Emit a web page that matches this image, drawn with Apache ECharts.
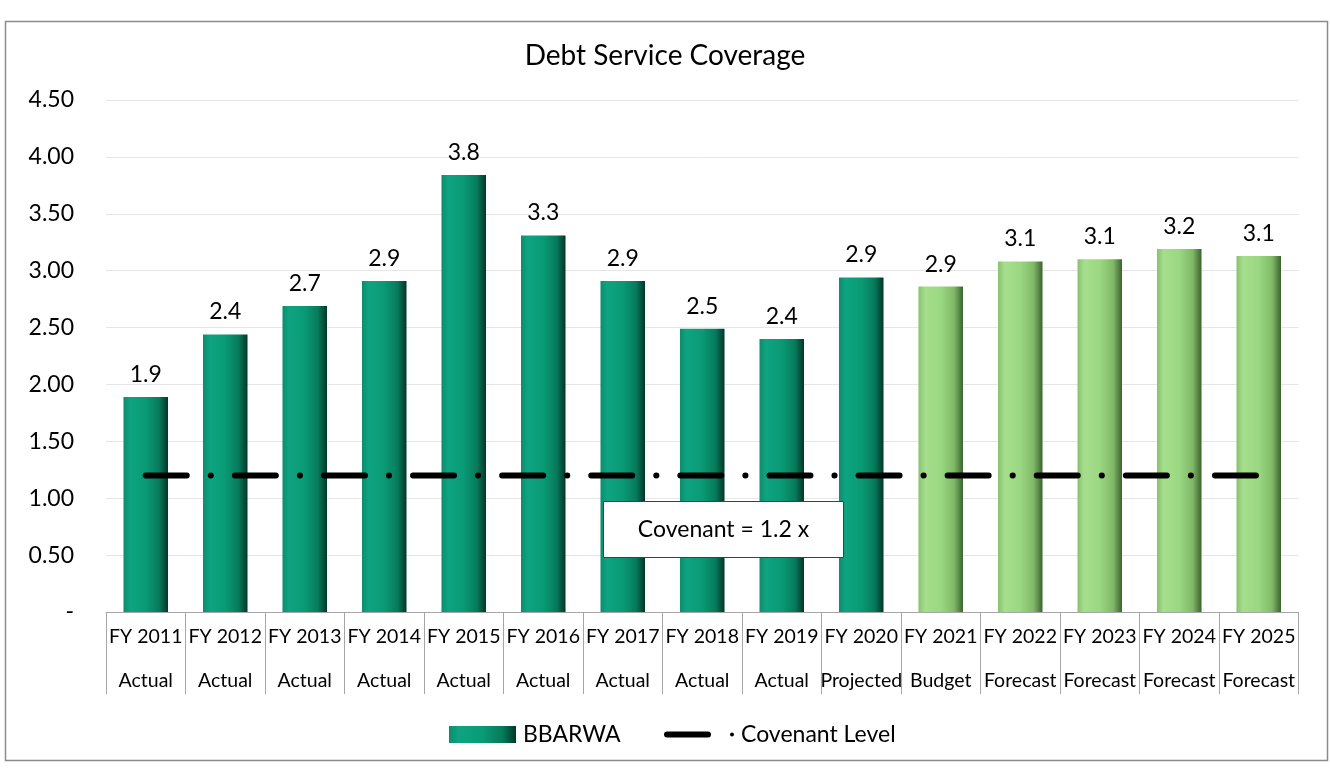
<!DOCTYPE html>
<html>
<head>
<meta charset="utf-8">
<script src="https://cdn.jsdelivr.net/npm/echarts@6/dist/echarts.min.js"></script>
<style>
html,body{margin:0;padding:0;background:#fff;}
#chart{width:1330px;height:768px;}
</style>
</head>
<body>
<div id="chart"></div>
<script>
// ---- data ----
var years = ['FY 2011','FY 2012','FY 2013','FY 2014','FY 2015','FY 2016','FY 2017','FY 2018','FY 2019','FY 2020','FY 2021','FY 2022','FY 2023','FY 2024','FY 2025'];
var phases = ['Actual','Actual','Actual','Actual','Actual','Actual','Actual','Actual','Actual','Projected','Budget','Forecast','Forecast','Forecast','Forecast'];
var coverage = [1.89, 2.44, 2.69, 2.91, 3.84, 3.31, 2.91, 2.49, 2.40, 2.94, 2.86, 3.08, 3.10, 3.19, 3.13];
var covenant = [1.2, 1.2, 1.2, 1.2, 1.2, 1.2, 1.2, 1.2, 1.2, 1.2, 1.2, 1.2, 1.2, 1.2, 1.2];
var yTicks = [0, 0.5, 1, 1.5, 2, 2.5, 3, 3.5, 4, 4.5];
var titleText = 'Debt Service Coverage';
var noteText = 'Covenant = 1.2 x';

// ---- styles ----
var FONT = 'Lato';
function grad(stops){
  return {type:'linear', x:0, y:0, x2:1, y2:0, colorStops: stops.map(function(s){return {offset:s[0], color:s[1]};})};
}
var tealGrad = grad([[0,'#0c8d6c'],[0.15,'#0ea481'],[0.5,'#0a9a75'],[0.8,'#077a5b'],[1,'#023628']]);
var greenGrad = grad([[0,'#86c26e'],[0.15,'#a6de8c'],[0.5,'#9bd882'],[0.8,'#80b967'],[1,'#3b6330']]);

var barData = coverage.map(function(v, i){
  var future = (phases[i] === 'Budget' || phases[i] === 'Forecast');
  return {value: v, itemStyle: {color: future ? greenGrad : tealGrad}};
});

var chart = echarts.init(document.getElementById('chart'), null, {renderer:'canvas'});
chart.setOption({
  animation: false,
  backgroundColor: '#fff',
  textStyle: {fontFamily: FONT},
  title: {
    text: titleText, left: 'center', top: 37,
    textStyle: {fontFamily: FONT, fontSize: 28, fontWeight: 'normal', color: '#000'}
  },
  legend: [
    {
      data: [{name: 'BBARWA', icon: 'rect'}],
      left: 444, top: 718, itemWidth: 67, itemHeight: 17, itemGap: 0,
      textStyle: {fontFamily: FONT, fontSize: 23, color: '#000', padding: [0,0,0,2]}
    },
    {
      data: [{name: 'Covenant Level',
        icon: 'path://M3,0 L44,0 A3,3 0 0 1 44,6 L3,6 A3,3 0 0 1 3,0 Z M68,1 A2,2 0 1 1 68,5 A2,2 0 1 1 68,1 Z M0,3 L0,3 M70,3 L70,3',
        itemStyle: {color: '#000', borderWidth: 0}}],
      left: 659, top: 718, itemWidth: 70, itemHeight: 6, itemGap: 0,
      textStyle: {fontFamily: FONT, fontSize: 23, color: '#000', padding: [0,0,0,2]}
    }
  ],
  grid: {left: 106, right: 31.5, top: 100, bottom: 156, containLabel: false},
  xAxis: {
    type: 'category',
    data: years,
    boundaryGap: true,
    axisLine: {show: true, lineStyle: {color: '#a6a6a6', width: 1}},
    axisTick: {show: true, interval: 0, alignWithLabel: false, length: 82, lineStyle: {color: '#a6a6a6', width: 1}},
    axisLabel: {
      interval: 0, margin: 3, fontFamily: FONT, fontSize: 19.5, color: '#000', lineHeight: 44,
      formatter: function(v, i){ return v + '\n' + phases[i]; }
    }
  },
  yAxis: {
    type: 'value', min: 0, max: 4.5, interval: 0.5,
    axisLine: {show: false}, axisTick: {show: false},
    splitLine: {lineStyle: {color: '#e6e6e6', width: 1}},
    axisLabel: {
      margin: 32, fontFamily: FONT, fontSize: 23, color: '#000',
      formatter: function(v){ return v === 0 ? '-' : v.toFixed(2); }
    }
  },
  series: [
    {
      name: 'BBARWA', type: 'bar', data: barData, barWidth: '56%',
      itemStyle: {color: tealGrad},
      label: {
        show: true, position: 'top', distance: 11,
        fontFamily: FONT, fontSize: 23, color: '#000',
        formatter: function(p){ return p.value.toFixed(1); }
      },
      z: 2
    },
    {
      name: 'Covenant Level', type: 'line', data: covenant,
      showSymbol: false, symbol: 'none',
      itemStyle: {color: '#000'},
      lineStyle: {color: '#000', width: 6, type: [41, 24, 0.1, 24], cap: 'round'},
      z: 3
    }
  ],
  graphic: [
    {
      type: 'rect', left: 3, top: 19, z: 0, silent: true,
      shape: {width: 1322, height: 739},
      style: {fill: 'none', stroke: '#8c8c8c', lineWidth: 1.5}
    },
    {
      type: 'group', left: 603, top: 501, zlevel: 1, silent: true,
      children: [
        {type: 'rect', zlevel: 1, z: 100, shape: {x: 0, y: 0, width: 240, height: 56},
         style: {fill: '#fff', stroke: '#404040', lineWidth: 1}},
        {type: 'text', zlevel: 1, z: 101, style: {x: 120, y: 28, text: noteText, fontFamily: FONT, fontSize: 23, fill: '#000', align: 'center', verticalAlign: 'middle'}}
      ]
    }
  ]
});
</script>
</body>
</html>
